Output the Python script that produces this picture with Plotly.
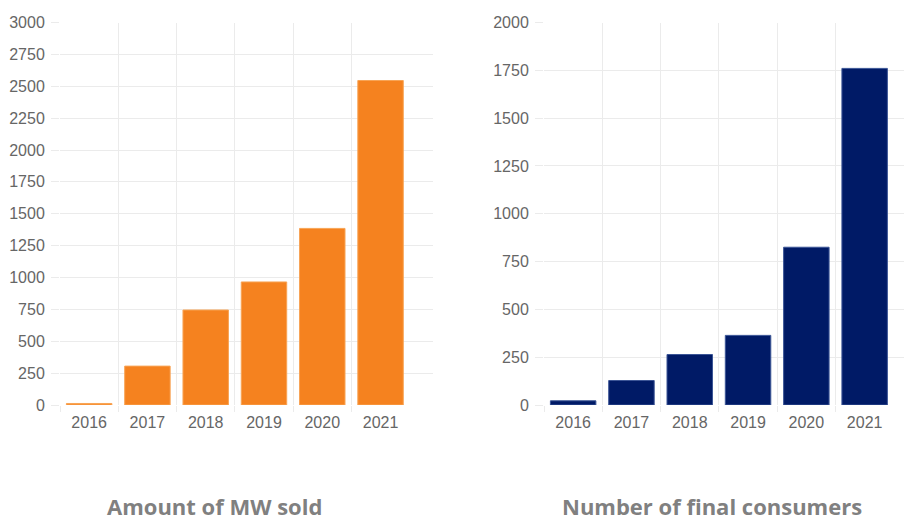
import plotly.graph_objects as go

years = ["2016", "2017", "2018", "2019", "2020", "2021"]
mw_sold = [12, 305, 745, 965, 1385, 2545]
final_consumers = [22, 128, 264, 364, 825, 1760]

left_title = "Amount of MW sold"
right_title = "Number of final consumers"

ORANGE = "#F5821F"
ORANGE_EDGE = "#F8A455"
NAVY = "#001A66"
NAVY_EDGE = "#3B5596"
GRID = "#EBEBEB"
TICK_COLOR = "#666666"

W, H = 904, 522
xpos = list(range(len(years)))
boundaries = [i - 0.5 for i in range(len(years))]

fig = go.Figure()
fig.add_trace(go.Bar(x=xpos, y=mw_sold, marker=dict(color=ORANGE, line=dict(color=ORANGE_EDGE, width=1)),
                     xaxis="x", yaxis="y", showlegend=False))
fig.add_trace(go.Bar(x=xpos, y=final_consumers, marker=dict(color=NAVY, line=dict(color=NAVY_EDGE, width=1)),
                     xaxis="x2", yaxis="y2", showlegend=False))

ydom = [117 / H, 499.5 / H]

def xaxis(domain, rng, anchor):
    return dict(domain=domain, range=rng, anchor=anchor, automargin=False,
                tickmode="array", tickvals=xpos, ticktext=years, ticks="",
                ticklabelstandoff=6,
                showgrid=False, zeroline=False, showline=False,
                tickfont=dict(family="Liberation Sans, Arial", size=16, color=TICK_COLOR),
                minor=dict(tickmode="array", tickvals=boundaries, showgrid=True, gridcolor=GRID,
                           gridwidth=1, ticks="outside", ticklen=6, tickcolor=GRID),
                fixedrange=True)

def yaxis(rng, anchor):
    return dict(domain=ydom, range=rng, anchor=anchor, dtick=250, tick0=0, automargin=False,
                ticks="outside", ticklen=8, tickcolor=GRID, ticklabelstandoff=3,
                showgrid=True, gridcolor=GRID, gridwidth=1, zeroline=False, showline=False,
                tickfont=dict(family="Liberation Sans, Arial", size=16, color=TICK_COLOR),
                fixedrange=True)

fig.update_layout(
    width=W, height=H,
    margin=dict(l=0, r=0, t=0, b=0),
    paper_bgcolor="white", plot_bgcolor="white",
    bargap=0.22,
    xaxis=xaxis([60 / W, 433 / W], [-0.5, 5.9], "y"),
    yaxis=yaxis([0, 3000], "x"),
    xaxis2=xaxis([544 / W, 1.0], [-0.5, 5.675], "y2"),
    yaxis2=yaxis([0, 2000], "x2"),
    annotations=[
        dict(text=f"<b>{left_title}</b>", x=214 / W, y=0, xref="paper", yref="paper",
             xanchor="center", yanchor="bottom", showarrow=False, borderpad=0,
             font=dict(family="Open Sans", size=22, color="#808080")),
        dict(text=f"<b>{right_title}</b>", x=712 / W, y=0, xref="paper", yref="paper",
             xanchor="center", yanchor="bottom", showarrow=False, borderpad=0,
             font=dict(family="Open Sans", size=22, color="#808080")),
    ],
)

fig.write_html("out.html", config={"displayModeBar": False},
               post_script="document.body.style.margin='0';document.body.style.overflow='hidden';")
